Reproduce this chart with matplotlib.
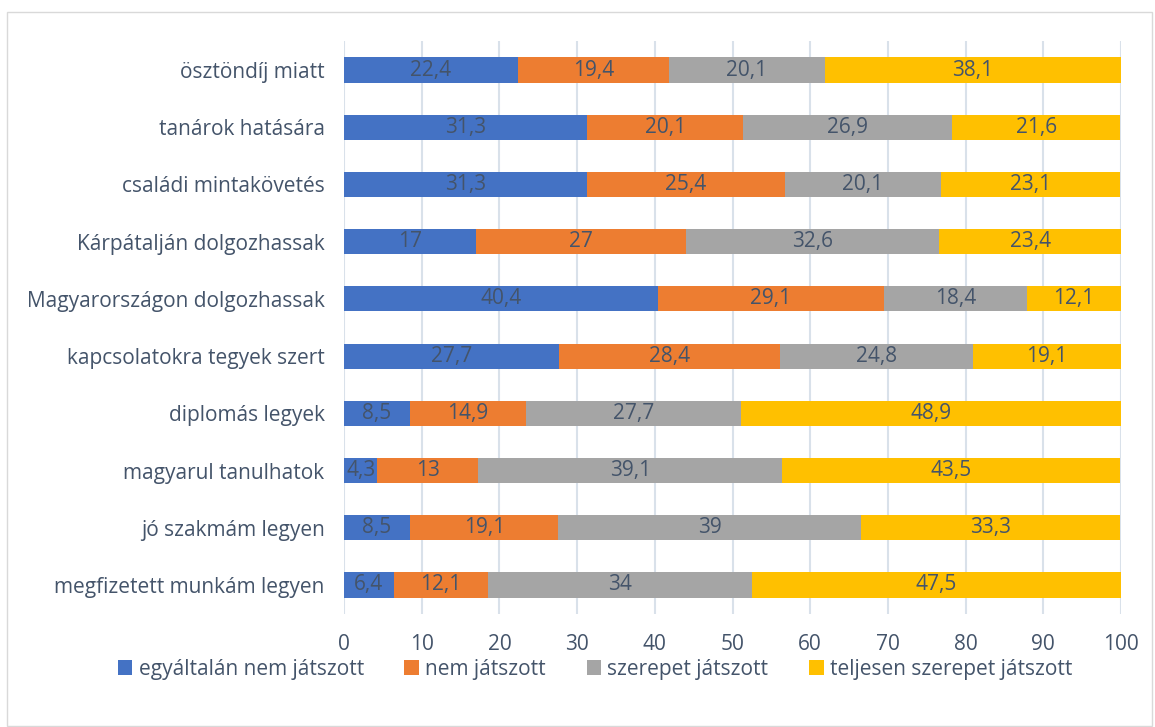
import matplotlib.pyplot as plt
import matplotlib.patches as mpatches
import numpy as np

plt.rcParams['font.family'] = ['Open Sans', 'DejaVu Sans']

# categories, bottom to top
categories = ['megfizetett munkám legyen', 'jó szakmám legyen', 'magyarul tanulhatok',
              'diplomás legyek', 'kapcsolatokra tegyek szert', 'Magyarországon dolgozhassak',
              'Kárpátalján dolgozhassak', 'családi mintakövetés', 'tanárok hatására',
              'ösztöndíj miatt']

egyaltalan_nem = [6.4, 8.5, 4.3, 8.5, 27.7, 40.4, 17, 31.3, 31.3, 22.4]
nem_jatszott = [12.1, 19.1, 13, 14.9, 28.4, 29.1, 27, 25.4, 20.1, 19.4]
szerepet = [34, 39, 39.1, 27.7, 24.8, 18.4, 32.6, 20.1, 26.9, 20.1]
teljesen = [47.5, 33.3, 43.5, 48.9, 19.1, 12.1, 23.4, 23.1, 21.6, 38.1]

series = [egyaltalan_nem, nem_jatszott, szerepet, teljesen]
labels = ['egyáltalán nem játszott', 'nem játszott', 'szerepet játszott',
          'teljesen szerepet játszott']
colors = ['#4472C4', '#ED7D31', '#A5A5A5', '#FFC000']
text_col = '#44546A'
fs = 15

fig = plt.figure(figsize=(11.55, 7.27), dpi=100)
ax = fig.add_axes([0.2978, 0.156, 0.6728, 0.787])

# chart border
fig.patches.append(mpatches.Rectangle((7 / 1155, 0.002), 1 - 7 / 1155 - 0.003, 1 - 12 / 727 - 0.002,
                                      transform=fig.transFigure, fill=False,
                                      edgecolor='#D9D9D9', linewidth=1))

y = np.arange(len(categories))
left = np.zeros(len(categories))
for vals, lab, col in zip(series, labels, colors):
    vals = np.array(vals, dtype=float)
    ax.barh(y, vals, left=left, height=0.44, color=col, label=lab, zorder=3)
    for yi, l, v in zip(y, left, vals):
        txt = f'{v:g}'.replace('.', ',')
        ax.text(l + v / 2, yi, txt, ha='center', va='center', fontsize=fs,
                color=text_col, zorder=4)
    left += vals

ax.set_xlim(0, 100)
ax.set_ylim(-0.5, len(categories) - 0.5)
ax.set_xticks(np.arange(0, 101, 10))
ax.set_yticks(y)
ax.set_yticklabels(categories)
ax.tick_params(axis='both', length=0, labelsize=fs, colors=text_col)
ax.tick_params(axis='x', pad=15)
ax.tick_params(axis='y', pad=14)
ax.grid(axis='x', color='#D9E1EA', linewidth=1.5, zorder=0)
for s in ax.spines.values():
    s.set_visible(False)

ax.legend(loc='center', bbox_to_anchor=(595 / 1155, 1 - 669 / 727), bbox_transform=fig.transFigure,
          ncol=4, frameon=False, fontsize=fs, labelcolor=text_col, handlelength=0.7,
          handleheight=0.7, handletextpad=0.3, columnspacing=1.95)

fig.savefig('out.png', dpi=100)
